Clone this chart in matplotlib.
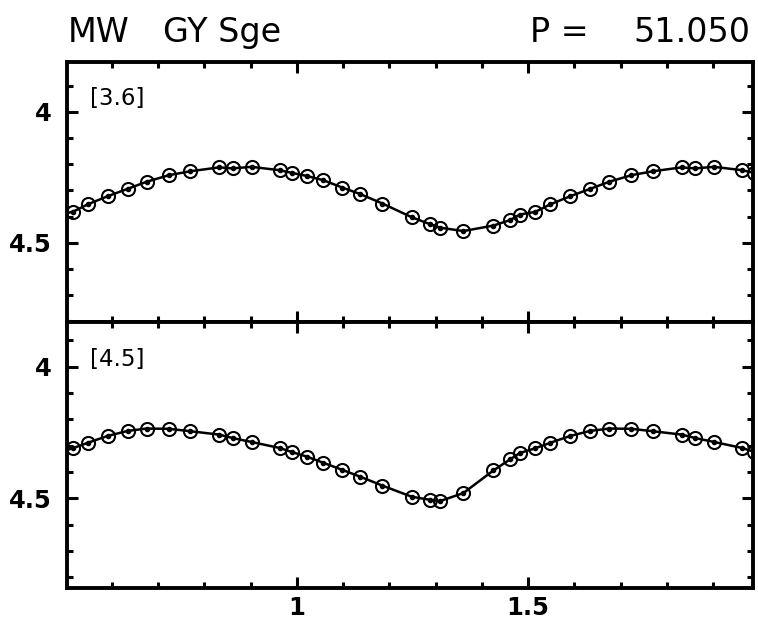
import numpy as np
import matplotlib
matplotlib.use('Agg')
import matplotlib.pyplot as plt
from matplotlib.ticker import MultipleLocator, FixedLocator

# phased light curve of GY Sge (one cycle, phases 0..1)
phase = [0.022, 0.057, 0.098, 0.137, 0.185, 0.248, 0.288, 0.309, 0.360, 0.425,
         0.461, 0.482, 0.515, 0.548, 0.591, 0.634, 0.675, 0.723, 0.769, 0.832,
         0.861, 0.902, 0.963, 0.989]
mag_36 = [4.245, 4.261, 4.289, 4.314, 4.350, 4.402, 4.429, 4.442, 4.455, 4.434,
          4.413, 4.392, 4.382, 4.353, 4.322, 4.294, 4.267, 4.242, 4.227, 4.212,
          4.216, 4.210, 4.223, 4.233]
mag_45 = [4.342, 4.365, 4.392, 4.418, 4.452, 4.494, 4.506, 4.511, 4.480, 4.394,
          4.352, 4.328, 4.310, 4.289, 4.263, 4.244, 4.235, 4.236, 4.245, 4.258,
          4.271, 4.286, 4.309, 4.324]
bands = ['[3.6]', '[4.5]']
x_ticks = [1, 1.5]
x_ticklabels = ['1', '1.5']
y_ticks = [4, 4.5]
y_ticklabels = ['4', '4.5']

W, H = 758, 624
fig = plt.figure(figsize=(W / 100, H / 100), dpi=100)


def box(l, t, r, b):
    return [l / W, 1 - b / H, (r - l) / W, (b - t) / H]


ax1 = fig.add_axes(box(67, 62, 753, 322))
ax2 = fig.add_axes(box(67, 322, 753, 588))

# repeat the cycle so it covers the 0.5..2 phase window
p = np.asarray(phase)
order = np.argsort(np.concatenate([p - 1, p, p + 1, p + 2]))

for ax, mags, label, ylim in [(ax1, mag_36, bands[0], (4.802, 3.810)),
                              (ax2, mag_45, bands[1], (4.841, 3.830))]:
    m = np.asarray(mags)
    xs = np.concatenate([p - 1, p, p + 1, p + 2])[order]
    ys = np.concatenate([m, m, m, m])[order]
    ax.plot(xs, ys, '-', color='black', lw=1.8, zorder=2)
    ax.plot(xs, ys, 'o', mfc='none', mec='black', ms=9.4, mew=1.5, zorder=3)
    ax.plot(xs, ys, 'o', color='black', ms=3.0, zorder=4)

    ax.set_xlim(0.503, 1.986)
    ax.set_ylim(*ylim)
    ax.xaxis.set_major_locator(FixedLocator(x_ticks))
    ax.xaxis.set_minor_locator(MultipleLocator(0.1))
    ax.yaxis.set_major_locator(FixedLocator(y_ticks))
    ax.yaxis.set_minor_locator(MultipleLocator(0.1))
    ax.tick_params(which='both', direction='in', top=True, right=True,
                   width=2.2, color='black')
    ax.tick_params(which='major', length=8)
    ax.tick_params(which='minor', length=4.5)
    ax.set_yticklabels(y_ticklabels, fontsize=17.5, fontweight='bold',
                       family='DejaVu Sans')
    ax.tick_params(axis='y', pad=11)
    ax.tick_params(axis='x', pad=6)
    for s in ax.spines.values():
        s.set_linewidth(2.8)
    ax.text(0.034, 0.86, label, transform=ax.transAxes, fontsize=16.5,
            va='center', ha='left', family='DejaVu Sans')

ax1.set_xticklabels([])
ax2.set_xticklabels(x_ticklabels, fontsize=17.5, fontweight='bold',
                    family='DejaVu Sans')

# header line
fs = 24
fig.text(68 / W, 1 - 42 / H, 'MW', fontsize=fs, ha='left', va='baseline',
         family='DejaVu Sans')
fig.text(163 / W, 1 - 42 / H, 'GY Sge', fontsize=fs, ha='left', va='baseline',
         family='DejaVu Sans')
fig.text(530 / W, 1 - 42 / H, 'P =', fontsize=fs, ha='left', va='baseline',
         family='DejaVu Sans')
fig.text(750 / W, 1 - 42 / H, '51.050', fontsize=fs, ha='right', va='baseline',
         family='DejaVu Sans')

fig.savefig('out.png', dpi=100)
